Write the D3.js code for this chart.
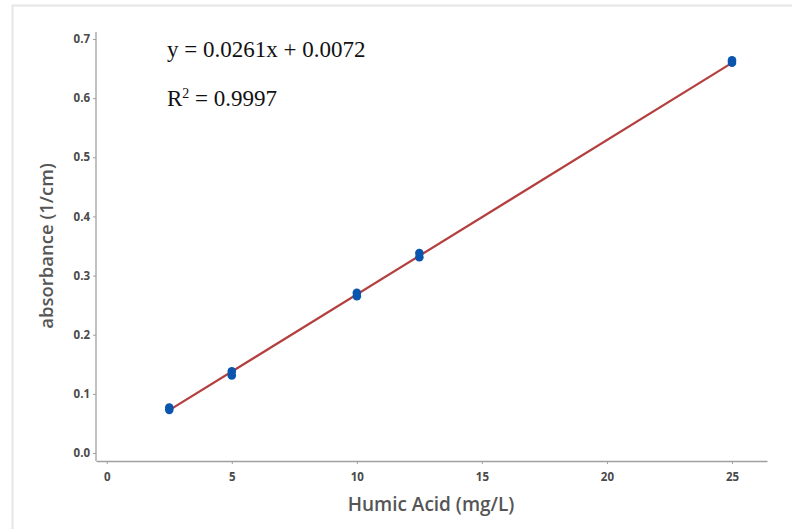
<!DOCTYPE html>
<html>
<head>
<meta charset="utf-8">
<script src="https://cdn.jsdelivr.net/npm/d3@7"></script>
<style>
  body { margin: 0; background: #fff; }
  svg { display: block; }
</style>
</head>
<body>
<script>
// calibration data: humic acid concentration (mg/L) vs absorbance (1/cm)
const concentration = [2.5, 2.5, 5, 5, 10, 10, 12.5, 12.5, 25, 25];
const absorbance = [0.073, 0.077, 0.131, 0.138, 0.265, 0.271, 0.331, 0.338, 0.660, 0.664];
const slope = 0.0261;
const intercept = 0.0072;
const xTicks = [0, 5, 10, 15, 20, 25];
const yTicks = [0, 0.1, 0.2, 0.3, 0.4, 0.5, 0.6, 0.7];

const w = 792;
const h = 529;

const svg = d3.select("body").append("svg").attr("width", w).attr("height", h);

// light frame around the picture
svg.append("path")
  .attr("d", "M12.5," + h + "V5.5H" + w)
  .attr("fill", "none")
  .attr("stroke", "#e6e6e6")
  .attr("stroke-width", 2);

const x = d3.scaleLinear().domain([-0.43, 26.4]).range([96, 767]);
const y = d3.scaleLinear().domain([-0.0135, 0.7]).range([461, 39]);

const tickFont = "'Open Sans', sans-serif";

const xAxis = svg.append("g")
  .attr("transform", "translate(0," + 461 + ")")
  .call(d3.axisBottom(x).tickValues(xTicks).tickSize(3).tickSizeOuter(0).tickFormat(d3.format("d")));

const yAxis = svg.append("g")
  .attr("transform", "translate(" + 96 + ",0)")
  .call(d3.axisLeft(y).tickValues(yTicks).tickSize(3).tickSizeOuter(0).tickFormat(d3.format(".1f")));

svg.selectAll(".domain").attr("stroke", "#a0a0a0").attr("stroke-width", 1.3);
svg.selectAll(".tick line").attr("stroke", "#a0a0a0");
svg.selectAll(".tick text")
  .attr("fill", "#4a4a4a")
  .attr("font-family", tickFont)
  .attr("font-weight", 700)
  .attr("font-size", 11.5);
xAxis.selectAll(".tick text").attr("dy", "1.2em");

// extend y axis line up a bit above 0.7
yAxis.select(".domain").attr("d", "M0," + 32 + "V" + 461);

// fitted line
const xr = [2.5, 25];
svg.append("line")
  .attr("x1", x(xr[0]))
  .attr("y1", y(slope * xr[0] + intercept))
  .attr("x2", x(xr[1]))
  .attr("y2", y(slope * xr[1] + intercept))
  .attr("stroke", "#b3403f")
  .attr("stroke-width", 2.2);

// measured points
svg.selectAll("circle.pt")
  .data(concentration)
  .join("circle")
  .attr("class", "pt")
  .attr("cx", (d) => x(d))
  .attr("cy", (d, i) => y(absorbance[i]))
  .attr("r", 4.3)
  .attr("fill", "#0a55ad");

// axis titles
svg.append("text")
  .attr("x", 431)
  .attr("y", 511)
  .attr("text-anchor", "middle")
  .attr("font-family", tickFont)
  .attr("font-weight", 600)
  .attr("font-size", 19)
  .attr("fill", "#555")
  .text("Humic Acid (mg/L)");

svg.append("text")
  .attr("transform", "translate(53,246) rotate(-90)")
  .attr("text-anchor", "middle")
  .attr("font-family", tickFont)
  .attr("font-weight", 600)
  .attr("font-size", 18.5)
  .attr("fill", "#555")
  .text("absorbance (1/cm)");

// equation annotation
const eq = svg.append("g")
  .attr("font-family", "'Liberation Serif', 'Times New Roman', serif")
  .attr("font-size", 23)
  .attr("fill", "#111");

eq.append("text").attr("x", 167).attr("y", 57).text("y = 0.0261x + 0.0072");

const r2 = eq.append("text").attr("x", 167).attr("y", 106);
r2.append("tspan").text("R");
r2.append("tspan").attr("font-size", 14).attr("dy", -8).text("2");
r2.append("tspan").attr("dy", 8).text(" = 0.9997");
</script>
</body>
</html>
